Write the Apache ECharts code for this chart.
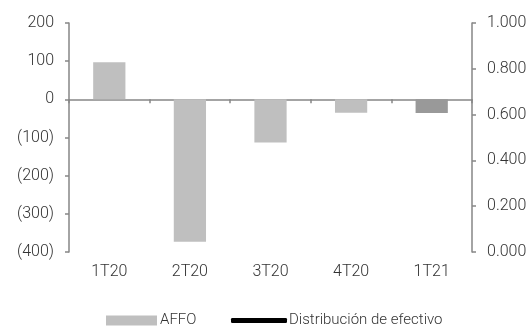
<!DOCTYPE html>
<html><head><meta charset="utf-8">
<script src="https://cdn.jsdelivr.net/npm/echarts@6/dist/echarts.min.js"></script>
<style>html,body{margin:0;padding:0;background:#fff}#c{width:530px;height:328px}</style>
</head><body><div id="c"></div>
<script>
const categories = ['1T20','2T20','3T20','4T20','1T21'];
const affo = [97, -373, -113, -35, -36];
const distribucion = [null, null, null, null, null];
const affoColors = ['#bfbfbf','#bfbfbf','#bfbfbf','#bfbfbf','#999999'];
const leftTicks = [-400,-300,-200,-100,0,100,200];

const font = 'Roboto';
const fw = 300;
const fs = 16;
const txt = '#333333';
const axisCol = '#868686';
const chart = echarts.init(document.getElementById('c'), null, {renderer:'canvas'});
chart.setOption({
  animation:false,
  textStyle:{fontFamily:font,fontWeight:fw},
  grid:{left:69,right:58,top:23,bottom:76,containLabel:false},
  legend:[{
    data:[{name:'AFFO',icon:'rect'}],
    left:106, top:313, itemWidth:51, itemHeight:10, itemGap:0,
    textStyle:{fontFamily:font,fontWeight:fw,fontSize:15,color:txt,padding:[0,0,0,-2]}, padding:0
  },{
    data:[{name:'Distribución de efectivo',icon:'roundRect'}],
    left:231, top:313, itemWidth:56, itemHeight:5, itemGap:0,
    textStyle:{fontFamily:font,fontWeight:fw,fontSize:15,color:txt,padding:[0,0,0,-3]}, padding:0
  }],
  xAxis:[{
    type:'category', data:categories,
    axisLine:{onZero:true,lineStyle:{color:axisCol,width:1.5}},
    axisTick:{show:true,length:4,lineStyle:{color:axisCol,width:1.5}},
    axisLabel:{show:false}
  },{
    type:'category', data:categories, position:'bottom',
    axisLine:{show:false,onZero:false}, axisTick:{show:false},
    axisLabel:{fontFamily:font,fontWeight:fw,fontSize:fs,color:txt,margin:12}
  }],
  yAxis:[{
    type:'value', min:leftTicks[0], max:leftTicks[leftTicks.length-1], interval:100,
    axisLine:{show:true,lineStyle:{color:axisCol,width:1.5}},
    axisTick:{show:true,inside:false,length:4,lineStyle:{color:axisCol,width:1.5}},
    splitLine:{show:false},
    axisLabel:{fontFamily:font,fontWeight:fw,fontSize:fs,color:txt,margin:15,
      formatter:v=>v<0?'('+Math.abs(v)+')':String(v)}
  },{
    type:'value', min:0, max:1, interval:0.2, position:'right',
    axisLine:{show:true,lineStyle:{color:axisCol,width:1.5}},
    axisTick:{show:true,inside:false,length:4,lineStyle:{color:axisCol,width:1.5}},
    splitLine:{show:false},
    axisLabel:{fontFamily:font,fontWeight:fw,fontSize:fs,color:txt,margin:15,
      formatter:v=>v.toFixed(3)}
  }],
  series:[{
    name:'AFFO', type:'bar', barWidth:'40%',
    itemStyle:{color:'#bfbfbf'},
    data:affo.map((v,i)=>({value:v,itemStyle:{color:affoColors[i]}}))
  },{
    name:'Distribución de efectivo', type:'line', yAxisIndex:1,
    itemStyle:{color:'#000'}, lineStyle:{color:'#000',width:3},
    symbol:'none', data:distribucion
  }]
});
</script></body></html>
